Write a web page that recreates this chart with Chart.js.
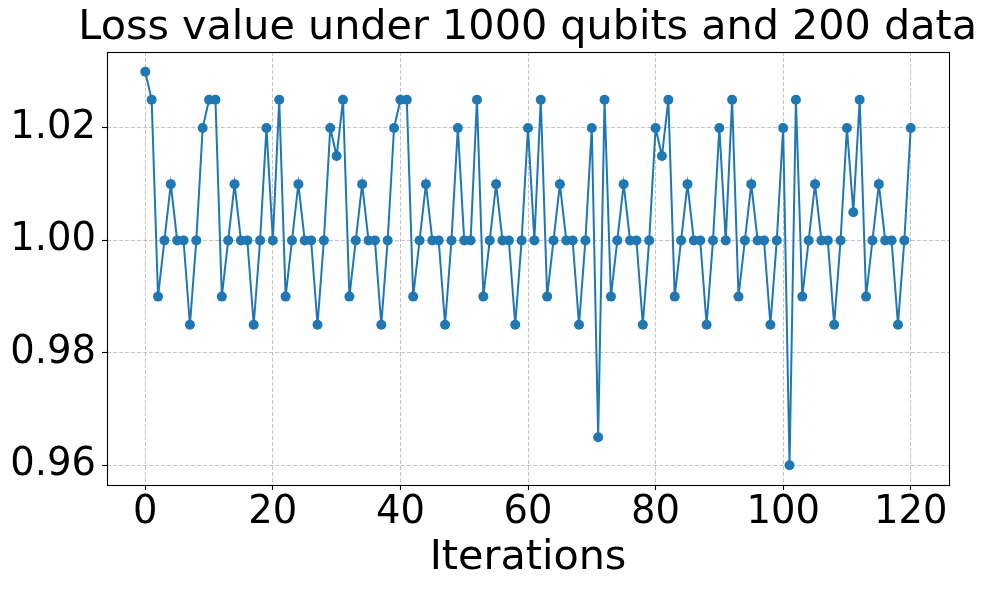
<!DOCTYPE html>
<html>
<head>
<meta charset="utf-8">
<script src="https://cdn.jsdelivr.net/npm/chart.js@4/dist/chart.umd.min.js"></script>
<style>
  html, body { margin: 0; padding: 0; background: #ffffff; }
  #wrap { width: 990px; height: 590px; }
</style>
</head>
<body>
<div id="wrap"><canvas id="c" width="990" height="590"></canvas></div>
<script>
const titleText = "Loss value under 1000 qubits and 200 data";
const xLabel = "Iterations";
const lossValues = [
  1.030, 1.025, 0.990, 1.000, 1.010, 1.000, 1.000, 0.985, 1.000, 1.020,
  1.025, 1.025, 0.990, 1.000, 1.010, 1.000, 1.000, 0.985, 1.000, 1.020,
  1.000, 1.025, 0.990, 1.000, 1.010, 1.000, 1.000, 0.985, 1.000, 1.020,
  1.015, 1.025, 0.990, 1.000, 1.010, 1.000, 1.000, 0.985, 1.000, 1.020,
  1.025, 1.025, 0.990, 1.000, 1.010, 1.000, 1.000, 0.985, 1.000, 1.020,
  1.000, 1.000, 1.025, 0.990, 1.000, 1.010, 1.000, 1.000, 0.985, 1.000,
  1.020, 1.000, 1.025, 0.990, 1.000, 1.010, 1.000, 1.000, 0.985, 1.000,
  1.020, 0.965, 1.025, 0.990, 1.000, 1.010, 1.000, 1.000, 0.985, 1.000,
  1.020, 1.015, 1.025, 0.990, 1.000, 1.010, 1.000, 1.000, 0.985, 1.000,
  1.020, 1.000, 1.025, 0.990, 1.000, 1.010, 1.000, 1.000, 0.985, 1.000,
  1.020, 0.960, 1.025, 0.990, 1.000, 1.010, 1.000, 1.000, 0.985, 1.000,
  1.020, 1.005, 1.025, 0.990, 1.000, 1.010, 1.000, 1.000, 0.985, 1.000,
  1.020
];
const iterations = lossValues.map((_, i) => i);
const xTicks = [0, 20, 40, 60, 80, 100, 120];
const yTicks = [0.96, 0.98, 1.00, 1.02];

const FONT = "'DejaVu Sans', sans-serif";
const lineColor = "#1f77b4";
const gridColor = "rgba(176,176,176,0.75)";

const frame = {
  id: "frame",
  afterDatasetsDraw(chart) {
    const a = chart.chartArea;
    const ctx = chart.ctx;
    ctx.save();
    ctx.strokeStyle = "#000000";
    ctx.lineWidth = 1.1;
    ctx.setLineDash([]);
    ctx.strokeRect(Math.round(a.left) + 0.5, Math.round(a.top) + 0.5,
                   Math.round(a.right - a.left), Math.round(a.bottom - a.top));
    ctx.restore();
  }
};

const gridOpts = {
  display: true,
  drawOnChartArea: true,
  color: gridColor,
  lineWidth: 1,
  tickLength: 5,
  tickColor: "#000000",
  tickWidth: 1.1,
  tickBorderDash: []
};

new Chart(document.getElementById("c"), {
  type: "scatter",
  data: {
    datasets: [{
      data: iterations.map((x, i) => ({ x: x, y: lossValues[i] })),
      showLine: true,
      borderColor: lineColor,
      backgroundColor: lineColor,
      borderWidth: 2,
      pointRadius: 5,
      pointHoverRadius: 5,
      pointBorderWidth: 0,
      tension: 0,
      yAxisID: "y"
    }]
  },
  options: {
    responsive: false,
    devicePixelRatio: 1,
    animation: false,
    layout: { padding: { left: 0, right: 13, top: 0, bottom: 0 } },
    plugins: {
      legend: { display: false },
      tooltip: { enabled: false },
      title: {
        display: true,
        text: titleText,
        fullSize: true,
        align: "end",
        color: "#000000",
        font: { family: FONT, size: 41.3, weight: "normal", lineHeight: 1.0 },
        padding: { top: 8, bottom: 2.7 }
      }
    },
    scales: {
      x: {
        type: "linear",
        min: -6,
        max: 126,
        afterFit(scale) { scale.height = 105; },
        afterBuildTicks(scale) { scale.ticks = xTicks.map(v => ({ value: v })); },
        ticks: {
          color: "#000000",
          font: { family: FONT, size: 38.5 },
          padding: 0,
          maxRotation: 0,
          autoSkip: false,
          callback: v => String(v)
        },
        grid: gridOpts,
        border: { display: false, dash: [4, 2] },
        title: {
          display: true,
          text: xLabel,
          color: "#000000",
          font: { family: FONT, size: 41.3, lineHeight: 1.2 },
          padding: { top: 0, bottom: 7 }
        }
      },
      y: {
        type: "linear",
        position: "left",
        min: 0.9565,
        max: 1.0335,
        afterFit(scale) { scale.width = 107; },
        afterBuildTicks(scale) { scale.ticks = yTicks.map(v => ({ value: v })); },
        ticks: {
          color: "#000000",
          font: { family: FONT, size: 38.5 },
          padding: 6,
          autoSkip: false,
          callback: v => Number(v).toFixed(2)
        },
        grid: gridOpts,
        border: { display: false, dash: [4, 2] }
      },
      yRight: {
        type: "linear",
        position: "right",
        display: true,
        min: 0,
        max: 1,
        afterFit(scale) { scale.width = 28; },
        ticks: { display: false },
        grid: { display: false, drawOnChartArea: false, drawTicks: false },
        border: { display: false }
      }
    }
  },
  plugins: [frame]
});
</script>
</body>
</html>
